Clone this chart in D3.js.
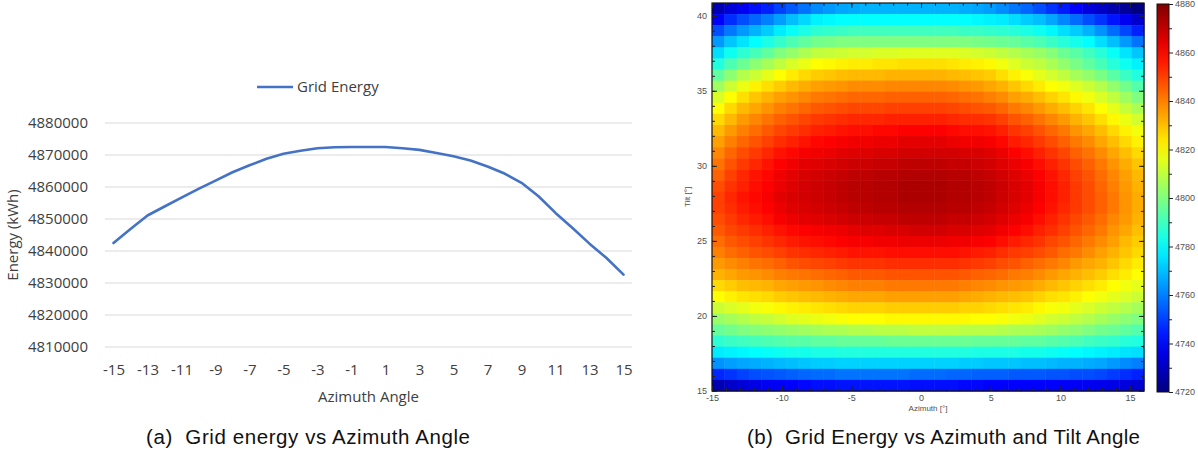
<!DOCTYPE html>
<html>
<head>
<meta charset="utf-8">
<script src="https://cdn.jsdelivr.net/npm/d3@7"></script>
<style>
  body { margin: 0; background: #fff; }
  svg { display: block; }
  .xl text, .yl text { font-family: "Open Sans", sans-serif; font-size: 15px; fill: #404040; }
  .hm text { font-family: "Liberation Sans", Arial, sans-serif; font-size: 9px; fill: #505050; }
  .caption { font-family: "Liberation Sans", Arial, sans-serif; font-size: 20.5px; fill: #111; }
</style>
</head>
<body>
<svg id="chart" width="1198" height="450"></svg>
<script>
// ---- (a) grid energy vs azimuth ----
const azimuthAngles = [-15,-14,-13,-12,-11,-10,-9,-8,-7,-6,-5,-4,-3,-2,-1,0,1,2,3,4,5,6,7,8,9,10,11,12,13,14,15];
const gridEnergy = [4842500,4846900,4851100,4853900,4856700,4859400,4862000,4864600,4866800,4868800,
  4870400,4871300,4872100,4872400,4872500,4872500,4872500,4872100,4871600,4870600,
  4869600,4868300,4866400,4864200,4861300,4857100,4851900,4847200,4842300,4837800,4832600];
const energyTicks = [4810000,4820000,4830000,4840000,4850000,4860000,4870000,4880000];
const azimuthLabels = [-15,-13,-11,-9,-7,-5,-3,-1,1,3,5,7,9,11,13,15];

// ---- (b) heatmap, rows from top (tilt ~41) to bottom (tilt 15), 35 azimuth columns ----
const tiltTicks = [15,20,25,30,35,40];
const azTicks = [-15,-10,-5,0,5,10,15];
const colorbarTicks = [4720,4740,4760,4780,4800,4820,4840,4860,4880];
const energyGrid = [
  [4728,4734,4738,4742,4745,4750,4754,4758,4762,4764,4766,4767,4768,4768,4768,4768,4768,4768,4768,4768,4767,4766,4765,4762,4759,4756,4752,4748,4744,4740,4735,4731,4727,4724,4720],
  [4740,4747,4752,4756,4760,4765,4770,4774,4778,4779,4780,4780,4780,4780,4780,4780,4780,4780,4780,4780,4780,4779,4778,4777,4775,4772,4770,4766,4761,4757,4752,4748,4743,4738,4732],
  [4752,4759,4764,4768,4772,4777,4781,4784,4787,4788,4789,4790,4790,4790,4790,4790,4790,4790,4790,4790,4789,4789,4788,4787,4786,4784,4782,4779,4775,4772,4768,4763,4757,4751,4745],
  [4764,4771,4776,4780,4784,4788,4792,4795,4798,4799,4800,4800,4800,4800,4800,4800,4800,4800,4800,4800,4800,4799,4798,4797,4796,4794,4792,4789,4786,4783,4780,4775,4770,4764,4758],
  [4775,4782,4787,4791,4795,4800,4803,4807,4810,4811,4812,4813,4813,4814,4814,4815,4815,4815,4815,4815,4814,4813,4812,4810,4808,4806,4804,4801,4797,4794,4790,4786,4781,4776,4771],
  [4785,4792,4797,4802,4806,4810,4814,4817,4820,4821,4822,4823,4823,4824,4824,4825,4825,4825,4825,4824,4823,4822,4821,4818,4815,4812,4810,4807,4803,4799,4795,4791,4786,4782,4778],
  [4795,4802,4808,4812,4816,4820,4823,4826,4828,4829,4830,4831,4831,4831,4832,4832,4832,4832,4832,4831,4830,4829,4828,4825,4822,4819,4816,4813,4810,4806,4803,4799,4794,4789,4785],
  [4805,4812,4817,4822,4825,4828,4831,4833,4835,4836,4837,4838,4838,4838,4839,4839,4839,4839,4839,4838,4837,4836,4834,4832,4829,4826,4823,4820,4818,4815,4812,4808,4803,4798,4793],
  [4814,4820,4825,4829,4832,4835,4837,4839,4841,4842,4843,4844,4844,4844,4845,4845,4845,4845,4845,4844,4843,4842,4840,4838,4835,4833,4830,4827,4824,4821,4818,4814,4810,4805,4800],
  [4820,4826,4831,4834,4837,4840,4842,4844,4846,4847,4848,4849,4849,4849,4850,4850,4850,4850,4850,4849,4848,4847,4846,4844,4841,4839,4836,4833,4830,4827,4824,4820,4816,4811,4807],
  [4826,4831,4836,4839,4842,4845,4847,4849,4851,4852,4853,4854,4854,4854,4855,4855,4855,4855,4855,4854,4853,4853,4852,4850,4847,4845,4842,4839,4836,4832,4829,4825,4821,4817,4813],
  [4831,4836,4840,4843,4846,4849,4851,4853,4855,4856,4857,4858,4858,4859,4859,4860,4860,4860,4860,4859,4858,4858,4857,4855,4852,4850,4847,4844,4841,4837,4834,4830,4826,4822,4818],
  [4835,4840,4844,4847,4850,4853,4855,4857,4859,4860,4861,4862,4862,4863,4863,4864,4864,4864,4864,4863,4862,4862,4861,4859,4856,4854,4851,4848,4845,4841,4838,4834,4830,4826,4822],
  [4839,4844,4848,4851,4854,4857,4859,4861,4862,4863,4864,4865,4865,4866,4866,4867,4867,4867,4867,4867,4866,4866,4865,4863,4860,4858,4855,4852,4849,4845,4842,4838,4834,4830,4826],
  [4842,4847,4851,4854,4857,4860,4862,4864,4865,4866,4867,4868,4868,4869,4869,4870,4870,4870,4870,4869,4869,4868,4867,4865,4863,4861,4858,4855,4852,4848,4845,4841,4837,4833,4829],
  [4845,4850,4854,4857,4859,4862,4864,4866,4867,4868,4869,4870,4870,4871,4871,4872,4872,4872,4872,4871,4871,4870,4869,4867,4865,4863,4860,4857,4854,4850,4847,4843,4839,4835,4831],
  [4848,4852,4855,4858,4860,4863,4865,4867,4868,4869,4870,4871,4871,4872,4872,4873,4873,4873,4873,4872,4872,4871,4870,4868,4866,4864,4861,4858,4855,4851,4848,4844,4840,4836,4832],
  [4850,4854,4857,4859,4861,4864,4866,4867,4868,4869,4870,4871,4871,4872,4872,4873,4873,4873,4873,4872,4872,4871,4870,4868,4866,4864,4861,4858,4855,4851,4848,4845,4841,4837,4833],
  [4850,4853,4856,4858,4860,4863,4865,4866,4867,4868,4869,4870,4870,4871,4871,4872,4872,4872,4872,4871,4871,4870,4869,4867,4865,4863,4860,4857,4854,4851,4848,4845,4841,4837,4833],
  [4848,4851,4854,4856,4858,4861,4863,4864,4865,4866,4867,4868,4868,4869,4869,4870,4870,4870,4870,4869,4869,4868,4867,4865,4863,4861,4858,4855,4852,4849,4846,4843,4839,4836,4832],
  [4846,4849,4851,4853,4855,4857,4859,4860,4861,4862,4863,4864,4865,4865,4866,4866,4867,4867,4867,4866,4866,4865,4864,4862,4860,4858,4855,4853,4850,4847,4844,4841,4837,4834,4830],
  [4843,4846,4848,4850,4852,4854,4856,4857,4858,4859,4860,4861,4861,4862,4862,4863,4863,4863,4863,4862,4862,4861,4860,4858,4856,4854,4852,4849,4847,4844,4841,4838,4835,4831,4828],
  [4840,4843,4845,4847,4848,4850,4852,4853,4854,4855,4856,4857,4857,4857,4858,4858,4858,4858,4858,4858,4857,4856,4855,4853,4851,4850,4848,4846,4843,4841,4838,4835,4832,4829,4826],
  [4836,4838,4840,4842,4843,4845,4847,4848,4849,4850,4851,4852,4852,4852,4853,4853,4853,4853,4853,4853,4852,4851,4850,4848,4847,4845,4843,4841,4839,4836,4834,4832,4829,4826,4823],
  [4832,4834,4836,4837,4838,4840,4841,4842,4843,4844,4845,4846,4846,4846,4847,4847,4847,4847,4847,4847,4846,4845,4844,4843,4841,4840,4838,4836,4834,4832,4830,4828,4825,4823,4820],
  [4826,4828,4830,4831,4832,4834,4835,4836,4837,4838,4839,4840,4840,4840,4841,4841,4841,4841,4841,4841,4840,4839,4838,4837,4836,4835,4833,4831,4829,4827,4825,4823,4820,4818,4816],
  [4820,4822,4824,4825,4826,4828,4829,4830,4831,4832,4833,4834,4834,4834,4835,4835,4835,4835,4835,4835,4834,4833,4832,4831,4830,4829,4827,4825,4824,4822,4820,4818,4816,4814,4812],
  [4812,4814,4816,4818,4819,4821,4822,4823,4824,4825,4826,4827,4827,4827,4828,4828,4828,4828,4828,4828,4827,4827,4826,4825,4824,4823,4821,4819,4818,4816,4814,4812,4810,4808,4806],
  [4804,4806,4808,4810,4811,4813,4815,4816,4817,4818,4819,4820,4820,4820,4821,4821,4821,4821,4821,4821,4821,4820,4820,4819,4818,4817,4815,4813,4812,4810,4808,4806,4804,4802,4800],
  [4796,4798,4800,4801,4802,4803,4804,4805,4806,4807,4807,4808,4808,4809,4809,4809,4810,4810,4810,4810,4809,4809,4809,4808,4807,4807,4806,4805,4803,4802,4800,4798,4797,4795,4793],
  [4787,4789,4790,4791,4792,4793,4794,4794,4795,4795,4796,4796,4796,4796,4797,4797,4797,4797,4797,4797,4797,4796,4796,4796,4796,4795,4795,4794,4793,4792,4790,4789,4788,4786,4785],
  [4777,4778,4779,4780,4781,4782,4783,4783,4784,4784,4785,4785,4785,4785,4785,4785,4785,4785,4785,4785,4785,4784,4784,4784,4784,4783,4783,4782,4781,4780,4779,4778,4777,4776,4775],
  [4763,4765,4766,4767,4768,4769,4770,4771,4772,4772,4773,4773,4773,4773,4773,4773,4773,4773,4773,4773,4772,4772,4771,4771,4771,4770,4770,4769,4768,4768,4767,4766,4764,4762,4760],
  [4746,4748,4750,4752,4753,4754,4755,4756,4757,4757,4758,4758,4758,4758,4758,4758,4757,4757,4757,4756,4756,4755,4755,4755,4754,4754,4754,4753,4753,4752,4752,4751,4749,4747,4745],
  [4728,4731,4734,4736,4738,4739,4740,4741,4742,4742,4743,4743,4743,4743,4743,4743,4742,4742,4742,4742,4741,4741,4740,4740,4740,4740,4740,4740,4739,4739,4738,4737,4736,4735,4733]
];

const svg = d3.select('#chart');
const lineColor = '#4472c4';
const plain = d => String(d);   // keep ascii hyphen and no thousands separator

// ===== left: line chart =====
const plotA = {left: 105, right: 632, top: 123, bottom: 347};

const xA = d3.scalePoint()
    .domain(azimuthAngles)
    .range([plotA.left, plotA.right])
    .padding(0.5);

const yA = d3.scaleLinear()
    .domain([4810000, 4880000])
    .range([plotA.bottom, plotA.top]);

// gridlines
svg.append('g')
  .selectAll('line')
  .data(energyTicks)
  .join('line')
    .attr('x1', plotA.left)
    .attr('x2', plotA.right)
    .attr('y1', d => yA(d))
    .attr('y2', d => yA(d))
    .attr('stroke', '#d9d9d9')
    .attr('stroke-width', 1.2);

const yAxisA = svg.append('g')
    .attr('class', 'yl')
    .attr('transform', `translate(${plotA.left},0)`)
    .call(d3.axisLeft(yA).tickValues(energyTicks).tickSize(0).tickPadding(17).tickFormat(plain));
yAxisA.select('.domain').remove();

const xAxisA = svg.append('g')
    .attr('class', 'xl')
    .attr('transform', `translate(0,${plotA.bottom})`)
    .call(d3.axisBottom(xA).tickValues(azimuthLabels).tickSize(0).tickPadding(17).tickFormat(plain));
xAxisA.select('.domain').remove();

svg.append('path')
    .datum(azimuthAngles.map((a, i) => ({az: a, e: gridEnergy[i]})))
    .attr('fill', 'none')
    .attr('stroke', lineColor)
    .attr('stroke-width', 2.6)
    .attr('stroke-linejoin', 'round')
    .attr('stroke-linecap', 'round')
    .attr('d', d3.line().x(d => xA(d.az)).y(d => yA(d.e)));

// legend
svg.append('line')
    .attr('x1', 257).attr('x2', 293)
    .attr('y1', 87).attr('y2', 87)
    .attr('stroke', lineColor)
    .attr('stroke-width', 2.6);
svg.append('text')
    .attr('x', 297).attr('y', 92)
    .style('font-family', '"Open Sans", sans-serif')
    .style('font-size', '15px')
    .style('fill', '#404040')
    .text('Grid Energy');

// axis titles
svg.append('text')
    .attr('transform', 'translate(18,235) rotate(-90)')
    .attr('text-anchor', 'middle')
    .style('font-family', '"Open Sans", sans-serif')
    .style('font-size', '15px')
    .style('fill', '#404040')
    .text('Energy (kWh)');
svg.append('text')
    .attr('x', (plotA.left + plotA.right) / 2).attr('y', 402)
    .attr('text-anchor', 'middle')
    .style('font-family', '"Open Sans", sans-serif')
    .style('font-size', '15px')
    .style('fill', '#404040')
    .text('Azimuth Angle');

// ===== right: heatmap =====
const plotB = {left: 712, right: 1144, top: 3, bottom: 391};

function jet(t) {
  t = Math.max(0, Math.min(1, t));
  const c = v => Math.round(255 * Math.max(0, Math.min(1, 1.5 - Math.abs(v))));
  return `rgb(${c(4 * t - 3)},${c(4 * t - 2)},${c(4 * t - 1)})`;
}
const color = d3.scaleLinear().domain([4720, 4880]).range([0, 1]);

const xB = d3.scaleLinear().domain([-15, 16]).range([plotB.left, plotB.right]);
const yB = d3.scaleLinear().domain([15, 40.85]).range([plotB.bottom, plotB.top]);

const colBand = d3.scaleBand().domain(d3.range(energyGrid[0].length)).range([plotB.left, plotB.right]);
const rowBand = d3.scaleBand().domain(d3.range(energyGrid.length)).range([plotB.top, plotB.bottom]);

const cells = energyGrid.flatMap((row, r) => row.map((v, c) => ({r, c, v})));
svg.append('g')
  .selectAll('rect')
  .data(cells)
  .join('rect')
    .attr('x', d => colBand(d.c))
    .attr('y', d => rowBand(d.r))
    .attr('width', colBand.bandwidth() + 0.5)
    .attr('height', rowBand.bandwidth() + 0.5)
    .attr('fill', d => jet(color(d.v)));

svg.append('rect')
    .attr('x', plotB.left).attr('y', plotB.top)
    .attr('width', plotB.right - plotB.left)
    .attr('height', plotB.bottom - plotB.top)
    .attr('fill', 'none')
    .attr('stroke', '#111')
    .attr('stroke-width', 1.2);

const azMinor = d3.range(-15, 16);
const tiltMinor = d3.range(15, 41);

function hmAxis(axis, transform) {
  const g = svg.append('g').attr('class', 'hm').attr('transform', transform).call(axis);
  g.select('.domain').remove();
  g.selectAll('line').attr('stroke', '#222');
  return g;
}
// bottom / top
hmAxis(d3.axisBottom(xB).tickValues(azTicks).tickSize(-5).tickPadding(4).tickFormat(plain), `translate(0,${plotB.bottom})`);
hmAxis(d3.axisBottom(xB).tickValues(azMinor).tickSize(-3).tickFormat(''), `translate(0,${plotB.bottom})`);
hmAxis(d3.axisTop(xB).tickValues(azTicks).tickSize(-5).tickFormat(''), `translate(0,${plotB.top})`);
hmAxis(d3.axisTop(xB).tickValues(azMinor).tickSize(-3).tickFormat(''), `translate(0,${plotB.top})`);
// left / right
hmAxis(d3.axisLeft(yB).tickValues(tiltTicks).tickSize(-5).tickPadding(5).tickFormat(plain), `translate(${plotB.left},0)`);
hmAxis(d3.axisLeft(yB).tickValues(tiltMinor).tickSize(-3).tickFormat(''), `translate(${plotB.left},0)`);
hmAxis(d3.axisRight(yB).tickValues(tiltTicks).tickSize(-5).tickFormat(''), `translate(${plotB.right},0)`);
hmAxis(d3.axisRight(yB).tickValues(tiltMinor).tickSize(-3).tickFormat(''), `translate(${plotB.right},0)`);

svg.append('text')
    .attr('x', 928).attr('y', 411)
    .attr('text-anchor', 'middle')
    .style('font-family', '"Liberation Sans", Arial, sans-serif')
    .style('font-size', '8px')
    .style('fill', '#505050')
    .text('Azimuth [°]');
svg.append('text')
    .attr('transform', 'translate(690,197) rotate(-90)')
    .attr('text-anchor', 'middle')
    .style('font-family', '"Liberation Sans", Arial, sans-serif')
    .style('font-size', '8px')
    .style('fill', '#505050')
    .text('Tilt [°]');

// colorbar
const cb = {left: 1157, right: 1169, top: 4, bottom: 392};
const yC = d3.scaleLinear().domain([4720, 4880]).range([cb.bottom, cb.top]);
const grad = svg.append('defs').append('linearGradient')
    .attr('id', 'jetGrad')
    .attr('x1', 0).attr('y1', 1).attr('x2', 0).attr('y2', 0);
grad.selectAll('stop')
  .data(d3.range(0, 1.0001, 0.05))
  .join('stop')
    .attr('offset', d => d)
    .attr('stop-color', d => jet(d));
svg.append('rect')
    .attr('x', cb.left).attr('y', cb.top)
    .attr('width', cb.right - cb.left)
    .attr('height', cb.bottom - cb.top)
    .attr('fill', 'url(#jetGrad)')
    .attr('stroke', '#111')
    .attr('stroke-width', 1);
hmAxis(d3.axisRight(yC).tickValues(colorbarTicks).tickSize(4).tickPadding(2).tickFormat(plain), `translate(${cb.right},0)`);
hmAxis(d3.axisRight(yC).tickValues(d3.range(4730, 4880, 20)).tickSize(3).tickFormat(''), `translate(${cb.right},0)`);

// captions
svg.append('text')
    .attr('class', 'caption')
    .attr('x', 146).attr('y', 444)
    .attr('textLength', 324)
    .attr('lengthAdjust', 'spacing')
    .text('(a)\u00a0 Grid energy vs Azimuth Angle');
svg.append('text')
    .attr('class', 'caption')
    .attr('x', 747).attr('y', 444)
    .attr('textLength', 393)
    .attr('lengthAdjust', 'spacing')
    .text('(b)\u00a0 Grid Energy vs Azimuth and Tilt Angle');
</script>
</body>
</html>
